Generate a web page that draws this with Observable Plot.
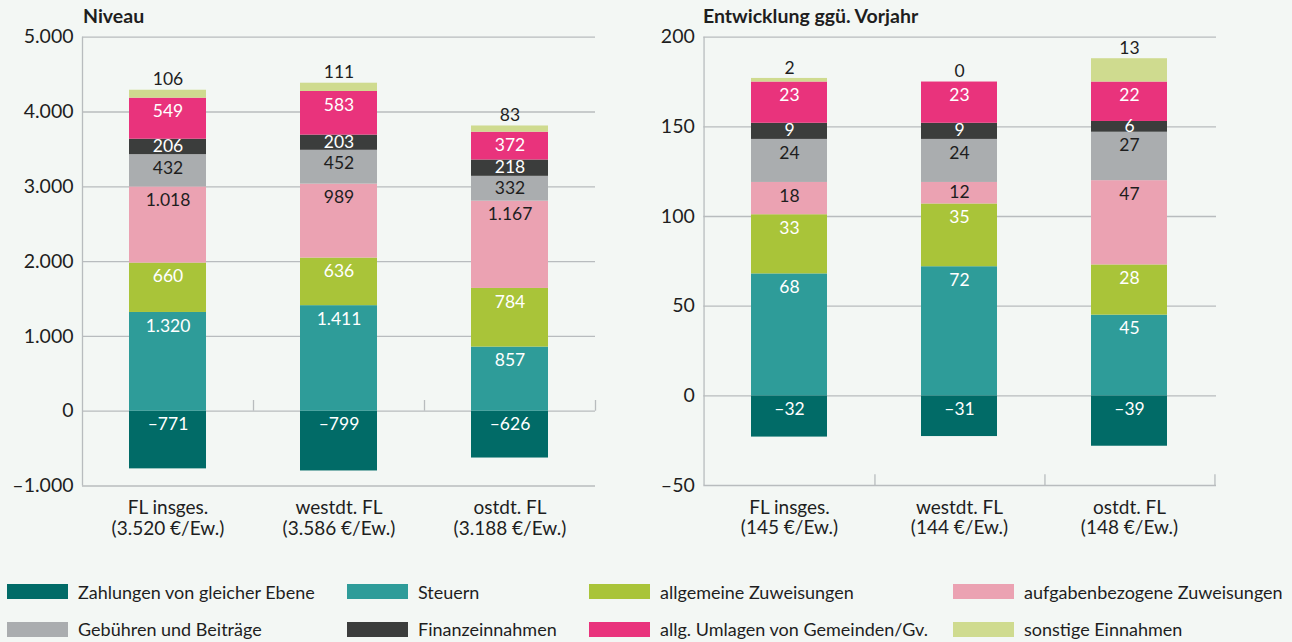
<!DOCTYPE html>
<html><head><meta charset="utf-8">
<script src="https://cdn.jsdelivr.net/npm/d3@7"></script>
<script src="https://cdn.jsdelivr.net/npm/@observablehq/plot@0.6"></script>
<style>
html,body{margin:0;padding:0;background:#f3f7f4;}
body{width:1292px;height:642px;position:relative;overflow:hidden;font-family:Lato,sans-serif;color:#1e1e1e;}
.title{position:absolute;top:6px;font-weight:bold;font-size:19.5px;line-height:19.5px;white-space:nowrap;}
.chart{position:absolute;top:0;}
.legend-item{position:absolute;height:15px;display:flex;align-items:center;font-size:18px;white-space:nowrap;}
.sw{width:61px;height:15px;margin-right:10px;flex:none;}
</style></head><body>
<div class="title" style="left:83px">Niveau</div>
<div class="title" style="left:703px">Entwicklung ggü. Vorjahr</div>
<div id="left" class="chart" style="left:0px"></div>
<div id="right" class="chart" style="left:620px"></div>
<div id="legend"></div>
<script>
// ---------- data ----------
const categories = ["FL insges.", "westdt. FL", "ostdt. FL"];
const series = ["Zahlungen von gleicher Ebene", "Steuern", "allgemeine Zuweisungen", "aufgabenbezogene Zuweisungen",
  "Gebühren und Beiträge", "Finanzeinnahmen", "allg. Umlagen von Gemeinden/Gv.", "sonstige Einnahmen"];
const colors = ["#016b67", "#2e9c99", "#a9c439", "#eba2b2", "#aaadaf", "#3b3d3c", "#e9337c", "#cfdb8f"];
const labelColors = ["#ffffff", "#ffffff", "#ffffff", "#1e1e1e", "#1e1e1e", "#ffffff", "#ffffff", "#1e1e1e"];

// Niveau (€/Ew.)
const niveauZahlungen = [-771, -799, -626];
const niveauSteuern = [1320, 1411, 857];
const niveauAllgZuw = [660, 636, 784];
const niveauAufgZuw = [1018, 989, 1167];
const niveauGebuehren = [432, 452, 332];
const niveauFinanz = [206, 203, 218];
const niveauUmlagen = [549, 583, 372];
const niveauSonstige = [106, 111, 83];
const niveauTotal = [3520, 3586, 3188];
const niveauTicks = [-1000, 0, 1000, 2000, 3000, 4000, 5000];

// Entwicklung ggü. Vorjahr (€/Ew.)
const entwZahlungen = [-32, -31, -39];          // printed values
const entwZahlungenBar = [-23, -22.7, -28.1];   // bar lengths as drawn in the picture
const entwSteuern = [68, 72, 45];
const entwAllgZuw = [33, 35, 28];
const entwAufgZuw = [18, 12, 47];
const entwGebuehren = [24, 24, 27];
const entwFinanz = [9, 9, 6];
const entwUmlagen = [23, 23, 22];
const entwSonstige = [2, 0, 13];
const entwTotal = [145, 144, 148];
const entwTicks = [-50, 0, 50, 100, 150, 200];

// ---------- helpers ----------
const loc = d3.formatLocale({decimal: ",", thousands: ".", grouping: [3], currency: ["", "€"], minus: "–"});
const fmt = loc.format(",d");
const grid = "#b8bcbe";

function makeChart(el, opts) {
  const {barValues, labelValues, totals, ticks, domain, width, height, mt, mb, ml, mr, axisAt} = opts;
  const plotH = height - mt - mb;
  const ppu = plotH / (domain[1] - domain[0]);
  const step = (width - ml - mr) / categories.length;
  const rows = [];
  categories.forEach((c, i) => {
    let pos = 0, neg = 0;
    series.forEach((s, k) => {
      const v = barValues[k][i];
      let y1, y2, top;
      if (v >= 0) { y1 = pos; y2 = pos + v; pos = y2; top = y2; }
      else { y1 = neg; y2 = neg + v; neg = y2; top = y1; }
      const h = Math.abs(v) * ppu;
      const off = Math.min(13.5, h / 2 - 0.5);
      rows.push({cat: c, k, series: s, value: v, label: labelValues[k][i], y1, y2, top,
                 ly: top - off / ppu});
    });
  });
  const inner = rows.filter(d => d.k !== 7);
  const outer = rows.filter(d => d.k === 7);
  const chart = Plot.plot({
    width, height, marginTop: mt, marginBottom: mb, marginLeft: ml, marginRight: mr,
    style: {background: "transparent", fontFamily: "Lato, sans-serif", fontSize: "19px", color: "#1e1e1e", overflow: "visible"},
    x: {domain: categories, paddingInner: 0.55, paddingOuter: 0.275, axis: null},
    y: {domain, axis: null},
    marks: [
      Plot.ruleY(ticks, {stroke: grid, strokeWidth: 1.3}),
      Plot.ruleX([categories[0]], {dx: -step / 2, stroke: grid, strokeWidth: 1.3}),
      Plot.ruleX(categories, {x: d => d, dx: step / 2, y1: axisAt, y2: axisAt + 10.7 / ppu, stroke: grid, strokeWidth: 1.3}),
      Plot.barY(rows, {x: "cat", y1: "y1", y2: "y2", fill: d => colors[d.k]}),
      Plot.text(inner, {x: "cat", y: "ly", text: d => fmt(d.label), fill: d => labelColors[d.k], fontSize: 17.5}),
      Plot.text(outer, {x: "cat", y: "top", dy: -10.5, text: d => fmt(d.label), fill: "#1e1e1e", fontSize: 17.5}),
      Plot.axisY({ticks, tickSize: 0, tickPadding: 9, tickFormat: fmt, fontSize: 19.5, label: null}),
      Plot.text(categories, {x: d => d, frameAnchor: "bottom", lineAnchor: "top", dy: 13.5, lineHeight: 1.085,
        fontSize: 19, fill: "#1e1e1e",
        text: (d, i) => d + "\n(" + fmt(totals[i]) + " €/Ew.)"})
    ]
  });
  document.getElementById(el).appendChild(chart);
}

makeChart("left", {
  barValues: [niveauZahlungen, niveauSteuern, niveauAllgZuw, niveauAufgZuw, niveauGebuehren, niveauFinanz, niveauUmlagen, niveauSonstige],
  labelValues: [niveauZahlungen, niveauSteuern, niveauAllgZuw, niveauAufgZuw, niveauGebuehren, niveauFinanz, niveauUmlagen, niveauSonstige],
  totals: niveauTotal, ticks: niveauTicks, domain: [-1000, 5000],
  width: 620, height: 545, mt: 36.7, mb: 59.5, ml: 82, mr: 25, axisAt: 0
});
makeChart("right", {
  barValues: [entwZahlungenBar, entwSteuern, entwAllgZuw, entwAufgZuw, entwGebuehren, entwFinanz, entwUmlagen, entwSonstige],
  labelValues: [entwZahlungen, entwSteuern, entwAllgZuw, entwAufgZuw, entwGebuehren, entwFinanz, entwUmlagen, entwSonstige],
  totals: entwTotal, ticks: entwTicks, domain: [-50, 200],
  width: 620, height: 545, mt: 36.7, mb: 60, ml: 83.3, mr: 24, axisAt: -50
});

// ---------- legend ----------
const legendOrder = [0, 1, 2, 3, 4, 5, 6, 7];
const colX = [7, 347, 589, 953];
const rowY = [591.5, 629];
const lg = document.getElementById("legend");
legendOrder.forEach((k, j) => {
  const item = document.createElement("div");
  item.className = "legend-item";
  item.style.left = colX[j % 4] + "px";
  item.style.top = (rowY[Math.floor(j / 4)] - 7.5) + "px";
  const sw = document.createElement("span");
  sw.className = "sw";
  sw.style.background = colors[k];
  const t = document.createElement("span");
  t.textContent = series[k];
  item.appendChild(sw); item.appendChild(t);
  lg.appendChild(item);
});
</script>
</body></html>
